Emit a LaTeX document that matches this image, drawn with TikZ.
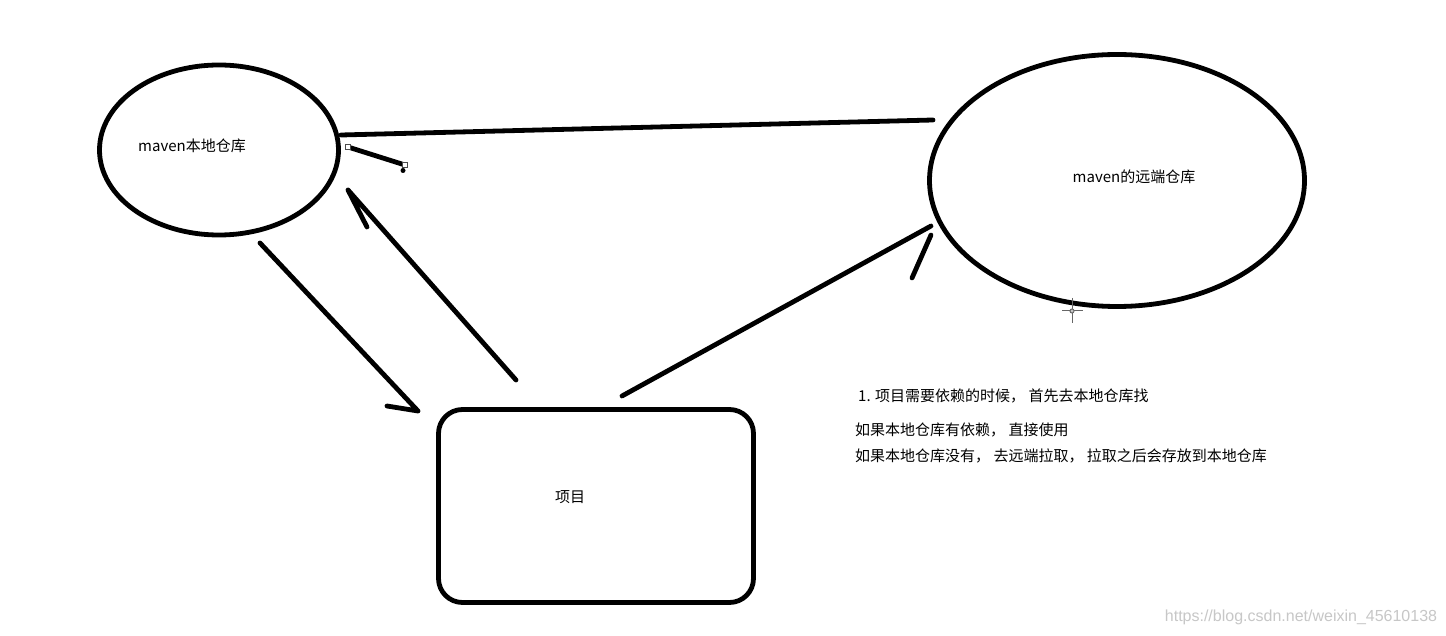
\documentclass[tikz,border=0pt]{standalone}
\usepackage{fontspec}
\setmainfont{Noto Sans CJK SC}
\newfontfamily\wmfont{Liberation Sans}
\usetikzlibrary{shapes.geometric}
\begin{document}
\begin{tikzpicture}[x=1pt,y=-1pt,
  stroke/.style={line width=4.8pt, line cap=round, line join=round},
  shapeline/.style={draw, line width=4.8pt, inner sep=0pt, outer sep=0pt},
  lbl/.style={inner sep=0pt, font=\fontsize{15pt}{18pt}\selectfont},
  handle/.style={draw=black!70, fill=white, line width=0.8pt, minimum size=5pt, inner sep=0pt},
  cursorline/.style={draw=black!60, line width=1pt}]
\fill[white] (0,0) rectangle (1446,636);
\useasboundingbox (0,0) rectangle (1446,636);
% shapes
\node[shapeline, ellipse, minimum width=239pt, minimum height=170pt] (local) at (219,150) {};
\node[shapeline, ellipse, minimum width=375pt, minimum height=252pt] (remote) at (1117,180.5) {};
\node[shapeline, rectangle, rounded corners=24pt, minimum width=315pt, minimum height=193pt] (proj) at (596,506) {};
% labels
\node[lbl] (tlocal) at (192,146) {maven本地仓库};
\node[lbl] (tremote) at (1134,177) {maven的远端仓库};
\node[lbl] (tproj) at (570,497) {项目};
\node[lbl, anchor=west] (n1) at (858,396) {1. 项目需要依赖的时候， 首先去本地仓库找};
\node[lbl, anchor=west] (n2) at (855,430) {如果本地仓库有依赖， 直接使用};
\node[lbl, anchor=west] (n3) at (855,456) {如果本地仓库没有， 去远端拉取， 拉取之后会存放到本地仓库};
\node[inner sep=0pt, text=black!22, font=\wmfont\fontsize{16pt}{19pt}\selectfont] (wm) at (1301,617) {https://blog.csdn.net/weixin\_45610138};
% connector end points
\coordinate (la) at (341,135);
\coordinate (ra) at (933,120);
\coordinate (a1s) at (260,243);
\coordinate (a1t) at (418,411);
\coordinate (a1h) at (387,406);
\coordinate (a2s) at (516,380);
\coordinate (a2t) at (348,190);
\coordinate (a2h) at (367,227);
\coordinate (a3s) at (622,396);
\coordinate (a3t) at (931,226);
\coordinate (a3u) at (931,235);
\coordinate (a3h) at (912,278);
\coordinate (sa) at (348,147);
\coordinate (sb) at (405,165);
% connectors
\draw[stroke] (la) -- (ra);
\draw[stroke] (a1s) -- (a1t) (a1h) -- (a1t);
\draw[stroke] (a2s) -- (a2t) -- (a2h);
\draw[stroke] (a3s) -- (a3t) (a3u) -- (a3h);
\draw[stroke] (sa) -- (sb);
\node[handle] (ha) at (sa) {};
\node[handle] (hb) at (sb) {};
\fill (403,170.5) circle (2.5pt);
% cursor
\coordinate (cc) at (1072,311);
\draw[cursorline] (1062,311) -- (1083,311) (1072,298) -- (1072,323);
\draw[cursorline, fill=white] (cc) circle (2pt);
\fill (cc) circle (0.7pt);
\end{tikzpicture}
\end{document}
